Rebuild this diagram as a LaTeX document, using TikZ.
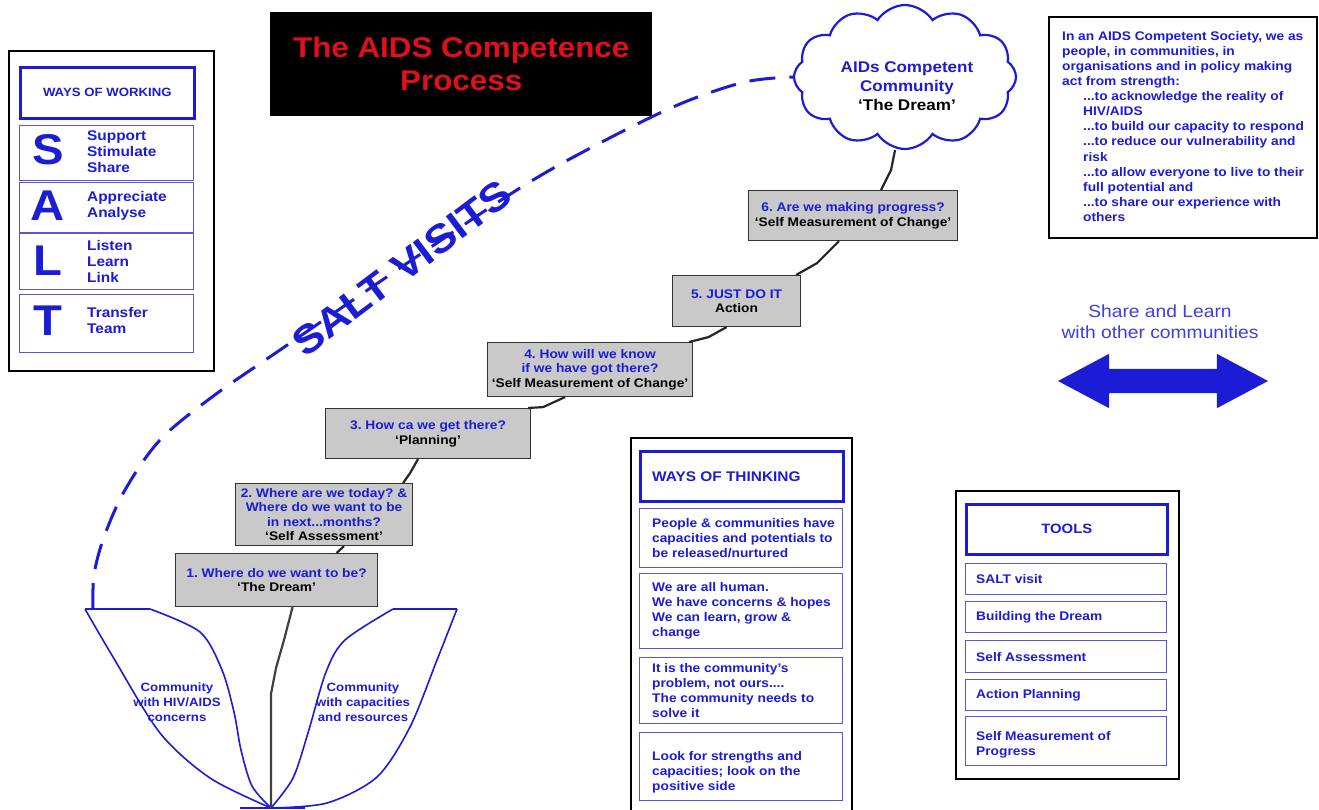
\documentclass[tikz,border=0pt]{standalone}
\usepackage{fontspec}
\setmainfont{Liberation Sans}[FakeStretch=1.1]
\usepackage{xcolor}
\usepackage{tikz}
\usetikzlibrary{shapes.symbols,shapes.arrows}
\definecolor{ink}{HTML}{1C1CD6}
\definecolor{boxgray}{HTML}{C9C9C9}
\definecolor{titlered}{HTML}{E0101A}
\newcommand{\fsize}[2]{\fontsize{#1}{#2}\selectfont}
\frenchspacing
\tikzset{
  frame/.style={draw=black, line width=1.6pt, fill=white},
  headbox/.style={draw=ink, line width=2.6pt, fill=white},
  itembox/.style={draw=ink!75, line width=1.1pt, fill=white},
  stepbox/.style={draw=black!80, line width=1.1pt, fill=boxgray, align=center, text=ink,
    inner sep=0pt, font=\bfseries\fsize{12.5}{14.5}},
  stair/.style={draw=black!85, line width=2.2pt},
  leaf/.style={draw=ink, line width=1.6pt},
  visitline/.style={draw=ink, line width=3pt, dash pattern=on 26pt off 14pt},
  boxtext/.style={text=ink, align=left, inner sep=0pt, anchor=west, font=\bfseries\fsize{12.5}{15}},
  bigletter/.style={text=ink, inner sep=0pt, font=\bfseries\fsize{43}{43}},
}

\begin{document}
\begin{tikzpicture}[x=1pt,y=-1pt]
  \useasboundingbox (0,0) rectangle (1319,810);

  % ways of working
  \node[frame, minimum width=205, minimum height=320, anchor=north west] (work) at (8,50) {};
  \node[headbox, minimum width=174, minimum height=51, anchor=north west, text=ink,
    font=\bfseries\fsize{12}{14}] (workhd) at (19,66) {WAYS OF WORKING};
  \node[itembox, minimum width=174, minimum height=55, anchor=north west] (rowS) at (19,125) {};
  \node[itembox, minimum width=174, minimum height=50, anchor=north west] (rowA) at (19,182) {};
  \node[itembox, minimum width=174, minimum height=56, anchor=north west] (rowL) at (19,233) {};
  \node[itembox, minimum width=174, minimum height=58, anchor=north west] (rowT) at (19,294) {};
  \node[bigletter] (letS) at (48,150) {S};
  \node[bigletter] (letA) at (48,206) {A};
  \node[bigletter] (letL) at (48,261) {L};
  \node[bigletter] (letT) at (48,321) {T};
  \node[boxtext, font=\bfseries\fsize{14}{16}] (wordS) at (87,152) {Support\\Stimulate\\Share};
  \node[boxtext, font=\bfseries\fsize{14}{16}] (wordA) at (87,206) {Appreciate\\Analyse};
  \node[boxtext, font=\bfseries\fsize{14}{16}] (wordL) at (87,261) {Listen\\Learn\\Link};
  \node[boxtext, font=\bfseries\fsize{14}{16}] (wordT) at (87,320) {Transfer\\Team};

  % title
  \node[fill=black, minimum width=382, minimum height=104, anchor=north west, text=titlered,
    align=center, font=\bfseries\fsize{28.5}{33}] (title) at (270,12) {The AIDS Competence\\Process};

  % the dream
  \node[cloud, draw=ink, line width=2.2pt, fill=white, cloud puffs=12, cloud puff arc=115,
    aspect=1.55, minimum width=222, minimum height=144] (cl) at (905,77) {};
  \node[text=ink, align=center, font=\bfseries\fsize{15.5}{19}] (cltxt) at (907,86)
    {AIDs Competent\\Community\\{\color{black}`The Dream'}};

  % society statement
  \node[frame, minimum width=268, minimum height=221, anchor=north west] (society) at (1048,16) {};
  \node[boxtext, anchor=north west, font=\bfseries\fsize{12.5}{15.1}] (societytxt) at (1062,31)
    {In an AIDS Competent Society, we as\\people, in communities, in\\organisations and in policy making\\act from strength:\\
     \hspace*{21pt}...to acknowledge the reality of\\\hspace*{21pt}HIV/AIDS\\
     \hspace*{21pt}...to build our capacity to respond\\\hspace*{21pt}...to reduce our vulnerability and\\
     \hspace*{21pt}risk\\\hspace*{21pt}...to allow everyone to live to their\\\hspace*{21pt}full potential and\\
     \hspace*{21pt}...to share our experience with\\\hspace*{21pt}others};

  % share and learn
  \node[text=ink!85, align=center, font=\fsize{17.5}{21}] (share) at (1160,322) {Share and Learn\\with other communities};
  \node[double arrow, fill=ink, inner sep=12pt, minimum height=210, minimum width=54,
    double arrow head extend=15pt, double arrow tip angle=56] (swap) at (1163,381) {};

  % salt visits
  \coordinate (leafL) at (93,609);
  \draw[visitline] plot[smooth, tension=0.55] coordinates {(leafL) (94,575) (104,537) (125,490)
    (160,440) (212,397) (280,350) (400,268) (520,188) (600,143) (680,104) (745,82) (cl.west)};
  \node[text=ink, rotate=37, font=\bfseries\fsize{40}{40}] (visits) at (402,268) {SALT VISITS};

  % steps
  \node[stepbox, minimum width=209, minimum height=50, anchor=north west] (s6) at (748,190)
    {6. Are we making progress?\\{\color{black}`Self Measurement of Change'}};
  \node[stepbox, minimum width=128, minimum height=51, anchor=north west] (s5) at (672,275)
    {5. JUST DO IT\\{\color{black}Action}};
  \node[stepbox, minimum width=205, minimum height=54, anchor=north west] (s4) at (487,342)
    {4. How will we know\\if we have got there?\\{\color{black}`Self Measurement of Change'}};
  \node[stepbox, minimum width=205, minimum height=50, anchor=north west] (s3) at (325,408)
    {3. How ca we get there?\\{\color{black}`Planning'}};
  \node[stepbox, minimum width=177, minimum height=62, anchor=north west] (s2) at (235,483)
    {2. Where are we today? \&\\Where do we want to be\\in next...months?\\{\color{black}`Self Assessment'}};
  \node[stepbox, minimum width=202, minimum height=53, anchor=north west] (s1) at (175,553)
    {1. Where do we want to be?\\{\color{black}`The Dream'}};

  \draw[stair] ([xshift=-10]cl.south) -- ++(-4,20) -- ([xshift=28]s6.north);
  \draw[stair] ([xshift=-14]s6.south) -- ++(-22,22) -- ([xshift=-5]s5.north east);
  \draw[stair] ([xshift=-10]s5.south) -- ++(-18,10) -- ([xshift=-4]s4.north east);
  \draw[stair] ([xshift=-25]s4.south) -- ++(-22,10) -- ([xshift=-3]s3.north east);
  \draw[stair] ([xshift=-10]s3.south) -- ++(-8,14) -- ([xshift=-10]s2.north east);
  \draw[stair] ([xshift=20]s2.south) -- ([xshift=60]s1.north);

  % leaves and stem
  \coordinate (root) at (271,808);
  \draw[leaf] (leafL) -- (150,609);
  \draw[leaf] plot[smooth] coordinates {(150,609) (200,632) (222,670) (234,712) (241,750) (252,786) (root)};
  \draw[leaf] plot[smooth] coordinates {(85,609) (113,657) (160,733) (210,778) (root)};
  \draw[leaf] (85,609) -- (leafL);
  \draw[leaf] (393,609) -- (457,609);
  \draw[leaf] plot[smooth] coordinates {(393,609) (345,640) (326,672) (308,733) (293,778) (root)};
  \draw[leaf] plot[smooth] coordinates {(457,609) (437,660) (410,727) (377,777) (327,803) (root)};
  \draw[leaf] (240,808) -- (305,808);
  \draw[stair, draw=black!75] ([xshift=16]s1.south) -- (284,640) -- (276,668) -- (271,694) -- (root);
  \node[text=ink, align=center, inner sep=0pt, font=\bfseries\fsize{12}{15}] (hivtxt) at (177,702) {Community\\with HIV/AIDS\\concerns};
  \node[text=ink, align=center, inner sep=0pt, font=\bfseries\fsize{12}{15}] (captxt) at (363,702) {Community\\with capacities\\and resources};

  % ways of thinking
  \draw[frame, fill=none] (631,810) |- (852,438) -- (852,810);
  \node[headbox, minimum width=203, minimum height=50, anchor=north west] (thinkhd) at (639,450) {};
  \node[boxtext, font=\bfseries\fsize{14}{16}] (thinkhdtxt) at ([xshift=13]thinkhd.west) {WAYS OF THINKING};
  \node[itembox, minimum width=203, minimum height=59, anchor=north west] (th1) at (639,508) {};
  \node[itembox, minimum width=203, minimum height=75, anchor=north west] (th2) at (639,573) {};
  \node[itembox, minimum width=203, minimum height=66, anchor=north west] (th3) at (639,657) {};
  \node[itembox, minimum width=203, minimum height=68, anchor=north west] (th4) at (639,732) {};
  \node[boxtext] (th1txt) at ([xshift=13]th1.west) {People \& communities have\\capacities and potentials to\\be released/nurtured};
  \node[boxtext] (th2txt) at ([xshift=13]th2.west) {We are all human.\\We have concerns \& hopes\\We can learn, grow \&\\change};
  \node[boxtext] (th3txt) at ([xshift=13]th3.west) {It is the community's\\problem, not ours....\\The community needs to\\solve it};
  \node[boxtext] (th4txt) at ([xshift=13,yshift=-6]th4.west) {Look for strengths and\\capacities; look on the\\positive side};

  % tools
  \node[frame, minimum width=223, minimum height=288, anchor=north west] (tools) at (955,490) {};
  \node[headbox, minimum width=201, minimum height=50, anchor=north west, text=ink,
    font=\bfseries\fsize{13.5}{16}] (toolhd) at (965,503) {TOOLS};
  \node[itembox, minimum width=201, minimum height=31, anchor=north west] (tl1) at (965,563) {};
  \node[itembox, minimum width=201, minimum height=31, anchor=north west] (tl2) at (965,601) {};
  \node[itembox, minimum width=201, minimum height=32, anchor=north west] (tl3) at (965,640) {};
  \node[itembox, minimum width=201, minimum height=31, anchor=north west] (tl4) at (965,679) {};
  \node[itembox, minimum width=201, minimum height=49, anchor=north west] (tl5) at (965,716) {};
  \node[boxtext] (tl1txt) at ([xshift=11]tl1.west) {SALT visit};
  \node[boxtext] (tl2txt) at ([xshift=11]tl2.west) {Building the Dream};
  \node[boxtext] (tl3txt) at ([xshift=11]tl3.west) {Self Assessment};
  \node[boxtext] (tl4txt) at ([xshift=11]tl4.west) {Action Planning};
  \node[boxtext] (tl5txt) at ([xshift=11,yshift=-4]tl5.west) {Self Measurement of\\Progress};
\end{tikzpicture}
\end{document}
